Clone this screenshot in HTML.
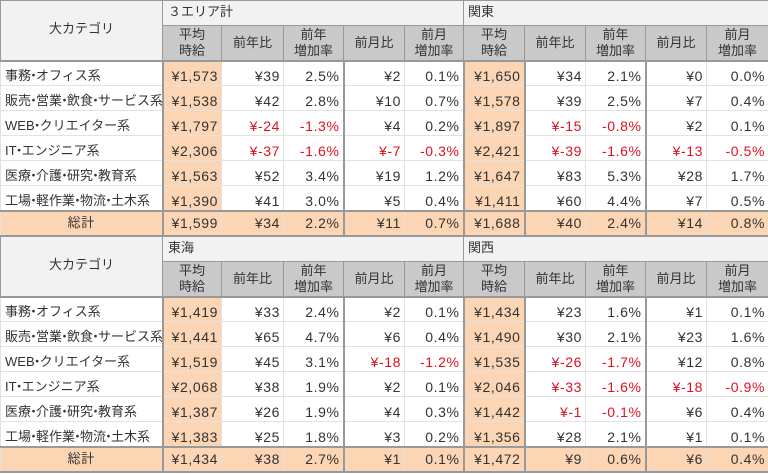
<!DOCTYPE html>
<html><head><meta charset="utf-8"><style>
body{margin:0;background:#fff;width:768px;height:474px;overflow:hidden}
table{border-collapse:collapse;table-layout:fixed;position:absolute;left:0;font-family:"Liberation Sans","Noto Sans CJK JP",sans-serif;font-size:14px;color:#333}
td{border:1px solid #e2e2e2;padding:0 3px 2px 3px;white-space:nowrap;overflow:hidden;text-align:right;line-height:14px;vertical-align:bottom;letter-spacing:0.6px}
.l{text-align:left;padding:0 0 2px 4px;font-size:13px;letter-spacing:0}
.d{display:inline-block;width:5px;overflow:visible;text-indent:-4px}
.h0{background:#f2f2f2;text-align:center;border-color:#999;vertical-align:middle;font-size:13px;letter-spacing:0}
.an{background:#f2f2f2;text-align:left;border-color:#999;padding-left:5px;vertical-align:middle;font-size:13px;letter-spacing:0}
.sh{background:#c9c9c9;text-align:center;border-color:#999;line-height:16px;vertical-align:middle;font-size:13px;letter-spacing:0;padding:0}
.p{background:#fcd5b4}
.t td{background:#fcd5b4;border-top:2px solid #999;border-bottom:2px solid #999;vertical-align:middle;padding-bottom:0}
.t td.c{text-align:center;font-size:13px}
.r{color:#e01020}
.dl{border-left:2px solid #999}
.dr{border-right:2px solid #999}
tr.f td{border-top:2px solid #999}
</style></head><body>
<table style="top:0;width:768px">
<colgroup><col style="width:162px"><col style="width:59px"><col style="width:62px"><col style="width:60px"><col style="width:61px"><col style="width:59px"><col style="width:61px"><col style="width:61px"><col style="width:60px"><col style="width:61px"><col style="width:62px"></colgroup>
<tr style="height:25px"><td class="h0" rowspan="2">大カテゴリ</td><td class="an" colspan="5">３エリア計</td><td class="an" colspan="5" style="padding-left:4px">関東</td></tr>
<tr style="height:35px"><td class="sh">平均<br>時給</td><td class="sh">前年比</td><td class="sh">前年<br>増加率</td><td class="sh">前月比</td><td class="sh">前月<br>増加率</td><td class="sh">平均<br>時給</td><td class="sh">前年比</td><td class="sh">前年<br>増加率</td><td class="sh">前月比</td><td class="sh">前月<br>増加率</td></tr>
<tr class="f" style="height:25px"><td class="l dr">事務<span class="d">・</span>オフィス系</td><td class="p">¥1,573</td><td>¥39</td><td class="dr">2.5%</td><td>¥2</td><td>0.1%</td><td class="p dl dr">¥1,650</td><td>¥34</td><td class="dr">2.1%</td><td>¥0</td><td>0.0%</td></tr>
<tr style="height:25px"><td class="l dr">販売<span class="d">・</span>営業<span class="d">・</span>飲食<span class="d">・</span>サービス系</td><td class="p">¥1,538</td><td>¥42</td><td class="dr">2.8%</td><td>¥10</td><td>0.7%</td><td class="p dl dr">¥1,578</td><td>¥39</td><td class="dr">2.5%</td><td>¥7</td><td>0.4%</td></tr>
<tr style="height:25px"><td class="l dr">WEB<span class="d">・</span>クリエイター系</td><td class="p">¥1,797</td><td class="r">¥-24</td><td class="r dr">-1.3%</td><td>¥4</td><td>0.2%</td><td class="p dl dr">¥1,897</td><td class="r">¥-15</td><td class="r dr">-0.8%</td><td>¥2</td><td>0.1%</td></tr>
<tr style="height:25px"><td class="l dr">IT<span class="d">・</span>エンジニア系</td><td class="p">¥2,306</td><td class="r">¥-37</td><td class="r dr">-1.6%</td><td class="r">¥-7</td><td class="r">-0.3%</td><td class="p dl dr">¥2,421</td><td class="r">¥-39</td><td class="r dr">-1.6%</td><td class="r">¥-13</td><td class="r">-0.5%</td></tr>
<tr style="height:25px"><td class="l dr">医療<span class="d">・</span>介護<span class="d">・</span>研究<span class="d">・</span>教育系</td><td class="p">¥1,563</td><td>¥52</td><td class="dr">3.4%</td><td>¥19</td><td>1.2%</td><td class="p dl dr">¥1,647</td><td>¥83</td><td class="dr">5.3%</td><td>¥28</td><td>1.7%</td></tr>
<tr style="height:25px"><td class="l dr">工場<span class="d">・</span>軽作業<span class="d">・</span>物流<span class="d">・</span>土木系</td><td class="p">¥1,390</td><td>¥41</td><td class="dr">3.0%</td><td>¥5</td><td>0.4%</td><td class="p dl dr">¥1,411</td><td>¥60</td><td class="dr">4.4%</td><td>¥7</td><td>0.5%</td></tr>
<tr class="t" style="height:25px"><td class="c dr">総計</td><td>¥1,599</td><td>¥34</td><td class="dr">2.2%</td><td>¥11</td><td>0.7%</td><td class="dl dr">¥1,688</td><td>¥40</td><td class="dr">2.4%</td><td>¥14</td><td>0.8%</td></tr>
</table>
<table style="top:236px;width:768px">
<colgroup><col style="width:162px"><col style="width:59px"><col style="width:62px"><col style="width:60px"><col style="width:61px"><col style="width:59px"><col style="width:61px"><col style="width:61px"><col style="width:60px"><col style="width:61px"><col style="width:62px"></colgroup>
<tr style="height:25px"><td class="h0" rowspan="2">大カテゴリ</td><td class="an" colspan="5">東海</td><td class="an" colspan="5" style="padding-left:4px">関西</td></tr>
<tr style="height:35px"><td class="sh">平均<br>時給</td><td class="sh">前年比</td><td class="sh">前年<br>増加率</td><td class="sh">前月比</td><td class="sh">前月<br>増加率</td><td class="sh">平均<br>時給</td><td class="sh">前年比</td><td class="sh">前年<br>増加率</td><td class="sh">前月比</td><td class="sh">前月<br>増加率</td></tr>
<tr class="f" style="height:25px"><td class="l dr">事務<span class="d">・</span>オフィス系</td><td class="p">¥1,419</td><td>¥33</td><td class="dr">2.4%</td><td>¥2</td><td>0.1%</td><td class="p dl dr">¥1,434</td><td>¥23</td><td class="dr">1.6%</td><td>¥1</td><td>0.1%</td></tr>
<tr style="height:25px"><td class="l dr">販売<span class="d">・</span>営業<span class="d">・</span>飲食<span class="d">・</span>サービス系</td><td class="p">¥1,441</td><td>¥65</td><td class="dr">4.7%</td><td>¥6</td><td>0.4%</td><td class="p dl dr">¥1,490</td><td>¥30</td><td class="dr">2.1%</td><td>¥23</td><td>1.6%</td></tr>
<tr style="height:25px"><td class="l dr">WEB<span class="d">・</span>クリエイター系</td><td class="p">¥1,519</td><td>¥45</td><td class="dr">3.1%</td><td class="r">¥-18</td><td class="r">-1.2%</td><td class="p dl dr">¥1,535</td><td class="r">¥-26</td><td class="r dr">-1.7%</td><td>¥12</td><td>0.8%</td></tr>
<tr style="height:25px"><td class="l dr">IT<span class="d">・</span>エンジニア系</td><td class="p">¥2,068</td><td>¥38</td><td class="dr">1.9%</td><td>¥2</td><td>0.1%</td><td class="p dl dr">¥2,046</td><td class="r">¥-33</td><td class="r dr">-1.6%</td><td class="r">¥-18</td><td class="r">-0.9%</td></tr>
<tr style="height:25px"><td class="l dr">医療<span class="d">・</span>介護<span class="d">・</span>研究<span class="d">・</span>教育系</td><td class="p">¥1,387</td><td>¥26</td><td class="dr">1.9%</td><td>¥4</td><td>0.3%</td><td class="p dl dr">¥1,442</td><td class="r">¥-1</td><td class="r dr">-0.1%</td><td>¥6</td><td>0.4%</td></tr>
<tr style="height:25px"><td class="l dr">工場<span class="d">・</span>軽作業<span class="d">・</span>物流<span class="d">・</span>土木系</td><td class="p">¥1,383</td><td>¥25</td><td class="dr">1.8%</td><td>¥3</td><td>0.2%</td><td class="p dl dr">¥1,356</td><td>¥28</td><td class="dr">2.1%</td><td>¥1</td><td>0.1%</td></tr>
<tr class="t" style="height:25px"><td class="c dr">総計</td><td>¥1,434</td><td>¥38</td><td class="dr">2.7%</td><td>¥1</td><td>0.1%</td><td class="dl dr">¥1,472</td><td>¥9</td><td class="dr">0.6%</td><td>¥6</td><td>0.4%</td></tr>
</table>
</body></html>
